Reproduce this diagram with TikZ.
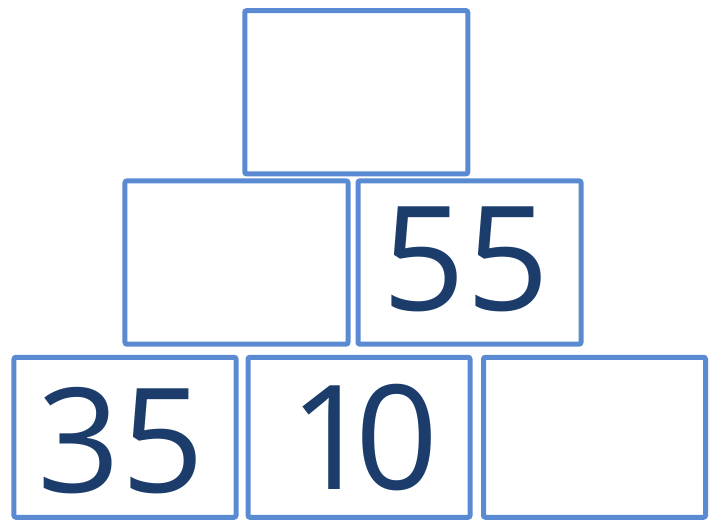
\documentclass[tikz,border=0pt]{standalone}
\usepackage{fontspec}
\newfontfamily\numfont{Open Sans}
\definecolor{boxBlue}{HTML}{5A8BD2}
\definecolor{numNavy}{HTML}{1C3D6B}

\begin{document}
\begin{tikzpicture}[x=0.03cm, y=-0.03cm,
  cell/.style={draw=boxBlue, line width=0.15cm, rounded corners=0.6mm, fill=white,
               minimum width=6.69cm, minimum height=4.9cm, inner sep=0pt},
  lowcell/.style={cell, minimum width=6.66cm, minimum height=4.8cm},
  num/.style={inner sep=0pt, text=numNavy, font=\numfont\fontsize{124}{126}\selectfont}]
  \useasboundingbox (0,0) rectangle (712,519);
  % top
  \node[cell] (top) at (356.25,92.25) {};
  % middle row
  \node[cell] (midl) at (236.5,262.5) {};
  \node[cell] (midr) at (469.5,262.5) {};
  % bottom row
  \node[lowcell] (botl) at (125,437.25) {};
  \node[lowcell] (botm) at (359,437.25) {};
  \node[lowcell] (botr) at (594.5,437.25) {};
  % numbers
  \node[num] (n55) at (466,259) {55};
  \node[num] (n35) at (121,441) {35};
  \node[num] (n10) at (364,438) {1\kern-0.12em0};
\end{tikzpicture}
\end{document}
